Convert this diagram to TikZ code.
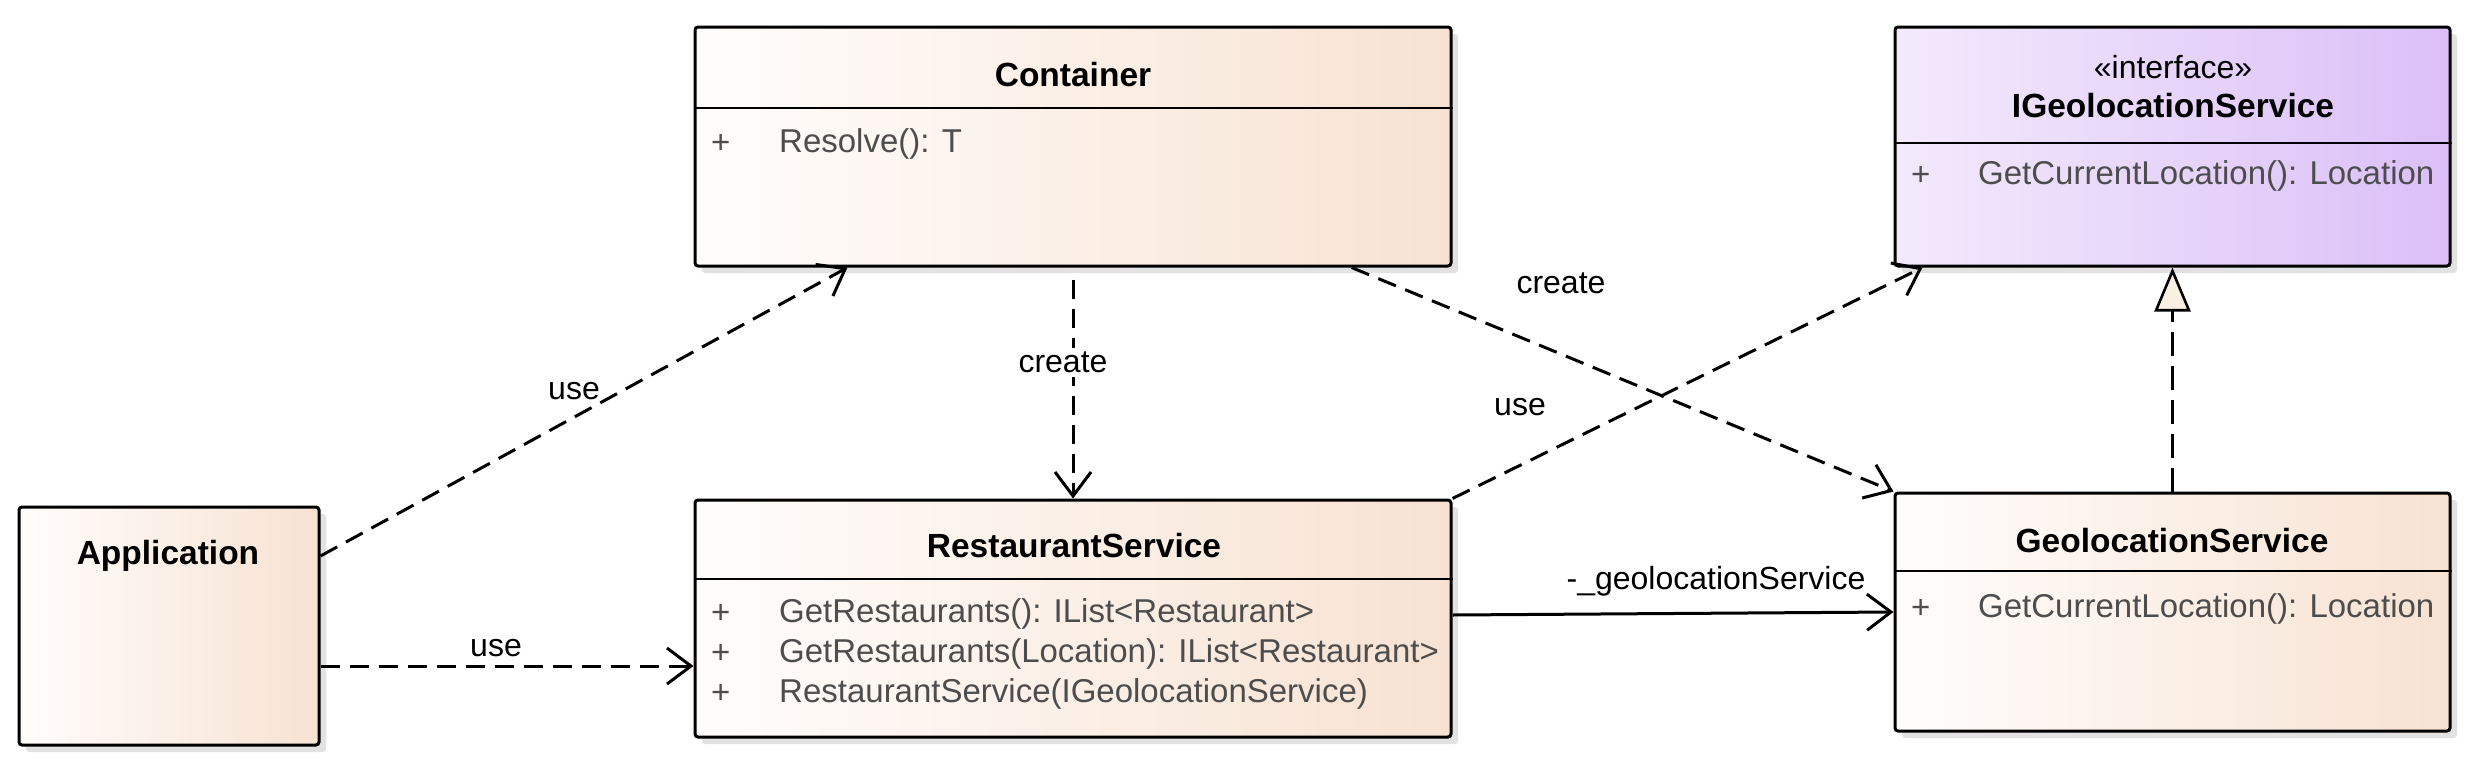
\documentclass[tikz,border=0pt]{standalone}
\usepackage{fontspec}
\setmainfont{Liberation Sans}
\usetikzlibrary{arrows.meta,calc}
\definecolor{peachL}{HTML}{FFFDFC}
\definecolor{peachR}{HTML}{F7E2D2}
\definecolor{lilacL}{HTML}{F3EAFC}
\definecolor{lilacR}{HTML}{DBBFF7}
\definecolor{shadowcol}{HTML}{E2E2E2}
\definecolor{membercol}{HTML}{4D4D4D}
\definecolor{creamcol}{HTML}{FAF0E2}
\tikzset{
  umlbox/.style={draw=black, line width=3pt, rounded corners=3pt, inner sep=0pt,
    preaction={fill=shadowcol, transform canvas={xshift=7pt,yshift=-7pt}}},
  peach/.style={left color=peachL, right color=peachR},
  lilac/.style={left color=lilacL, right color=lilacR},
  divider/.style={line width=2.5pt},
  titletxt/.style={font=\fontsize{33.5}{40}\selectfont\bfseries, inner sep=0pt},
  stereotxt/.style={font=\fontsize{32}{38}\selectfont, inner sep=0pt},
  membertxt/.style={font=\fontsize{33}{39}\selectfont, text=membercol, anchor=west, inner sep=0pt},
  lbl/.style={font=\fontsize{32}{38}\selectfont, inner sep=2pt},
  dep/.style={line width=3pt, dash pattern=on 19pt off 10pt,
    -{Straight Barb[length=24pt,width=36pt,line width=3pt]}},
  assoc/.style={line width=3pt, -{Straight Barb[length=24pt,width=36pt,line width=3pt]}},
  real/.style={line width=2.6pt, dash pattern=on 24pt off 10pt,
    -{Triangle[length=44pt,width=36pt,line width=2.6pt,fill=creamcol]}}
}
\begin{document}
\begin{tikzpicture}[x=1pt,y=-1pt]
\useasboundingbox (0,0) rectangle (2487,782);

% boxes
\node[umlbox, peach, minimum width=756pt, minimum height=239pt] (cont) at (1073,146.5) {};
\node[umlbox, lilac, minimum width=555pt, minimum height=239pt] (iface) at (2172.5,146.5) {};
\node[umlbox, peach, minimum width=300pt, minimum height=238pt] (app) at (169,626) {};
\node[umlbox, peach, minimum width=756pt, minimum height=237pt] (rest) at (1073,618.5) {};
\node[umlbox, peach, minimum width=555pt, minimum height=238pt] (geo) at (2172.5,612) {};

% dividers
\draw[divider] (cont.west |- 0,108) -- (cont.east |- 0,108);
\draw[divider] (iface.west |- 0,143) -- (iface.east |- 0,143);
\draw[divider] (rest.west |- 0,579) -- (rest.east |- 0,579);
\draw[divider] (geo.west |- 0,571) -- (geo.east |- 0,571);

% titles
\node[titletxt] (conttitle) at (1073,75) {Container};
\node[stereotxt] (ifacestereo) at (2173,67) {«interface»};
\node[titletxt] (ifacetitle) at (2173,106) {IGeolocationService};
\node[titletxt] (apptitle) at (168,556) {Application};
\node[titletxt] (resttitle) at (1074,546) {RestaurantService};
\node[titletxt] (geotitle) at (2172,541) {GeolocationService};

% members
\node[membertxt] (contp1) at (711,144) {+};
\node[membertxt] (contm1) at (779,144) {Resolve(): T};
\node[membertxt] (ifacep1) at (1911,176) {+};
\node[membertxt] (ifacem1) at (1978,176) {GetCurrentLocation(): Location};
\node[membertxt] (restp1) at (711,614) {+};
\node[membertxt] (restm1) at (779,614) {GetRestaurants(): IList<Restaurant>};
\node[membertxt] (restp2) at (711,654) {+};
\node[membertxt] (restm2) at (779,654) {GetRestaurants(Location): IList<Restaurant>};
\node[membertxt] (restp3) at (711,694) {+};
\node[membertxt] (restm3) at (779,694) {RestaurantService(IGeolocationService)};
\node[membertxt] (geop1) at (1911,609) {+};
\node[membertxt] (geom1) at (1978,609) {GetCurrentLocation(): Location};

% connectors
\draw[dep] (app.east |- apptitle) -- ([xshift=154pt]cont.south west);
\draw[dep] (app.east |- 0,666) -- (rest.west |- 0,666);
\draw[dep, shorten <=12pt] (cont.south) -- (rest.north);
\draw[dep] ([xshift=658pt]cont.south west) -- (geo.north west);
\draw[dep] (rest.north east) -- ([xshift=29pt]iface.south west);
\draw[assoc] (rest.east |- 0,615) -- (geo.west |- 0,612);
\draw[real] (geo.north) -- (iface.south);

% labels
\node[lbl] (l1) at (574,391) {use};
\node[lbl] (l2) at (496,648) {use};
\node[lbl, fill=white, inner ysep=4pt] (l3) at (1063,362) {create};
\node[lbl] (l4) at (1561,283) {create};
\node[lbl] (l5) at (1520,407) {use};
\node[lbl] (l6) at (1716,581) {-\_geolocationService};
\end{tikzpicture}
\end{document}
